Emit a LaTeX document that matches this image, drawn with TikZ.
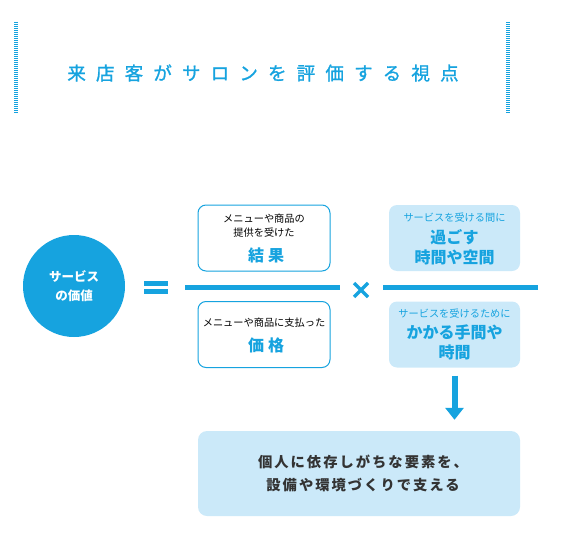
\documentclass[tikz,border=0pt]{standalone}
\usepackage{fontspec}
\newfontfamily\jp{Noto Sans CJK JP}
\newfontfamily\jpmid[FakeBold=1.2]{Noto Sans CJK JP}
\usetikzlibrary{positioning, arrows.meta}

\definecolor{salonblue}{HTML}{16A3DF}
\definecolor{salonpale}{HTML}{CBE9F9}
\definecolor{salonink}{HTML}{333333}

\tikzset{
  whitebox/.style={draw=salonblue, line width=1pt, fill=white, rounded corners=8pt, minimum width=132pt, minimum height=66pt},
  palebox/.style={fill=salonpale, rounded corners=8pt, minimum width=131pt, minimum height=66pt},
  notetext/.style={font={\jp\fontsize{10.2}{14}\selectfont}, align=center, inner sep=0pt},
  headtext/.style={font={\jp\bfseries\fontsize{16}{20}\selectfont}, text=salonblue, align=center, inner sep=0pt},
  fracline/.style={salonblue, line width=4.5pt},
  stripebar/.style={salonblue, line width=4pt, dash pattern=on 1pt off 1pt},
  bigarrow/.style={salonblue, line width=6pt, -{Triangle[width=18pt,length=12pt]}}
}

\begin{document}
\begin{tikzpicture}[x=1pt, y=-1pt]
  \useasboundingbox (0,0) rectangle (561,559);

  % title
  \draw[stripebar] (15.5,22) -- (15.5,113);
  \draw[stripebar] (507.5,22) -- (507.5,113);
  \node[font={\jpmid\fontsize{18.5}{20}\selectfont\addfontfeature{LetterSpace=55}}, text=salonblue, inner sep=0pt]
    (title) at (263,73) {来店客がサロンを評価する視点};

  % left side
  \node[circle, fill=salonblue, minimum size=102pt, inner sep=0pt, text=white, align=center,
        font={\jp\bfseries\fontsize{12.5}{19}\selectfont}] (value) at (74,286) {サービス\\の価値};
  \fill[salonblue] (144,281) rectangle (168,285.5);
  \fill[salonblue] (144,289) rectangle (168,293.5);

  % fractions
  \draw[fracline] (185,287.5) -- (340,287.5);
  \draw[fracline] (383,287.5) -- (538,287.5);
  \draw[salonblue, line width=3.5pt] (354,283) -- (368,297) (354,297) -- (368,283);

  \node[whitebox] (result) at (264,238) {};
  \node[notetext] (resultnote) at (264,226) {メニューや商品の\\提供を受けた};
  \node[headtext, font={\jp\bfseries\fontsize{16}{20}\selectfont\addfontfeature{LetterSpace=25}}] (resulthead) at (266,255) {結果};

  \node[whitebox] (price) at (264,334.5) {};
  \node[notetext] (pricenote) at (264,323) {メニューや商品に支払った};
  \node[headtext, font={\jp\bfseries\fontsize{16}{20}\selectfont\addfontfeature{LetterSpace=25}}] (pricehead) at (266,345) {価格};

  \node[palebox] (stay) at (454.5,238) {};
  \node[notetext, text=salonblue] (staynote) at (454.5,218) {サービスを受ける間に};
  \node[headtext] (stayhead) at (454.5,247) {過ごす\\時間や空間};

  \node[palebox] (cost) at (454.5,334.5) {};
  \node[notetext, text=salonblue] (costnote) at (454.5,314) {サービスを受けるために};
  \node[headtext] (costhead) at (454.5,342) {かかる手間や\\時間};

  % conclusion
  \node[fill=salonpale, rounded corners=9pt, minimum width=322pt, minimum height=85pt] (support) at (359,473.5) {};
  \node[font={\jp\bfseries\fontsize{14.3}{23}\selectfont\addfontfeature{LetterSpace=14}}, text=salonink, align=center, inner sep=0pt]
    (supporttext) at (363,473.5) {個人に依存しがちな要素を、\\設備や環境づくりで支える};
  \draw[bigarrow, shorten <=8pt, shorten >=11pt] (cost.south) -- (cost.south |- support.north);
\end{tikzpicture}
\end{document}
